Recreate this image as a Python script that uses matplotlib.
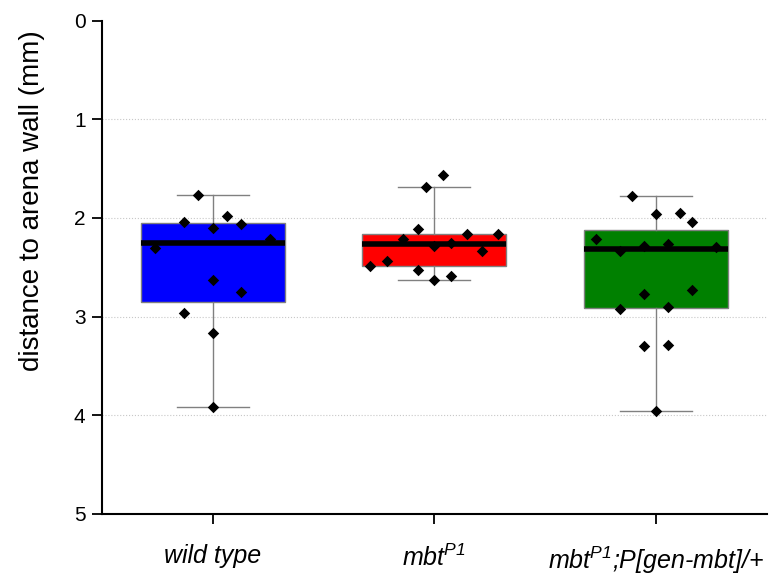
import numpy as np
import matplotlib
matplotlib.use("Agg")
import matplotlib.pyplot as plt
from matplotlib import cbook

# distance to arena wall (mm) per fly
groups = ["wild type", "mbt$^{P1}$", "mbt$^{P1}$;P[gen-mbt]/+"]
colors = ["#0000ff", "#ff0000", "#008000"]

wild_type = [1.77, 2.04, 2.10, 1.98, 2.06, 2.30, 2.21, 2.63, 2.75, 2.96, 3.17, 3.92]
mbt_p1 = [1.56, 1.69, 2.11, 2.16, 2.16, 2.21, 2.25, 2.28, 2.33, 2.44, 2.49, 2.53,
          2.59, 2.63]
rescue = [1.78, 1.96, 1.95, 2.04, 2.21, 2.26, 2.28, 2.29, 2.33, 2.73, 2.77, 2.90,
          2.92, 3.30, 3.29, 3.96]

# horizontal scatter of the points inside each box
wild_type_jitter = [-0.066, -0.129, 0, 0.063, 0.128, -0.26, 0.257, 0, 0.128, -0.129, 0, 0]
mbt_p1_jitter = [0.038, -0.036, -0.072, 0.145, 0.289, -0.143, 0.074, 0, 0.217, -0.215,
                 -0.289, -0.072, 0.074, 0]
rescue_jitter = [-0.107, 0, 0.11, 0.163, -0.27, 0.054, -0.053, 0.271, -0.161, 0.163,
                 -0.053, 0.054, -0.161, -0.053, 0.054, 0]

data = [wild_type, mbt_p1, rescue]
jitter = [wild_type_jitter, mbt_p1_jitter, rescue_jitter]

fam = "Liberation Sans"
plt.rcParams["font.family"] = [fam, "DejaVu Sans"]
plt.rcParams["mathtext.fontset"] = "custom"
plt.rcParams["mathtext.rm"] = fam + ":italic"
plt.rcParams["mathtext.it"] = fam + ":italic"

fig = plt.figure(figsize=(7.77, 5.76), dpi=100)
ax = fig.add_axes([0.1316, 0.108, 0.855, 0.856])

# box statistics, quartiles like the original software (hazen)
stats = cbook.boxplot_stats(data, whis=1.5)
for st, d in zip(stats, data):
    st["q1"], st["q3"] = np.percentile(d, [25, 75], method="hazen")

pos = np.arange(1, len(data) + 1)
bp = ax.bxp(stats, positions=pos, widths=0.65, capwidths=0.325, patch_artist=True,
            showfliers=False,
            boxprops=dict(edgecolor="#808080", linewidth=1),
            whiskerprops=dict(color="#808080", linewidth=1),
            capprops=dict(color="#808080", linewidth=1),
            medianprops=dict(color="black", linewidth=4))
for box, c in zip(bp["boxes"], colors):
    box.set_facecolor(c)

for p, d, j in zip(pos, data, jitter):
    ax.scatter(p + np.array(j), d, marker="D", s=34, color="black", zorder=5,
               linewidths=0)

ax.set_xlim(0.5, 3.5)
ax.set_ylim(5, 0)
ax.set_yticks([0, 1, 2, 3, 4, 5])
ax.set_xticks(pos)
ax.set_xticklabels(groups, fontsize=18, style="italic")
ax.tick_params(axis="y", labelsize=15, length=7, width=1.3, pad=5)
ax.tick_params(axis="x", length=7, width=1.3, pad=15)
ax.set_ylabel("distance to arena wall (mm)", fontsize=20)
ax.yaxis.set_label_coords(-0.086, 0.636)

ax.set_axisbelow(True)
ax.yaxis.grid(True, linestyle=":", color="#c8c8c8", linewidth=0.8)
gl = ax.get_ygridlines()
gl[0].set_visible(False)
gl[-1].set_visible(False)

for s in ["top", "right"]:
    ax.spines[s].set_visible(False)
for s in ["left", "bottom"]:
    ax.spines[s].set_linewidth(1.5)

fig.savefig("out.png", dpi=100)
